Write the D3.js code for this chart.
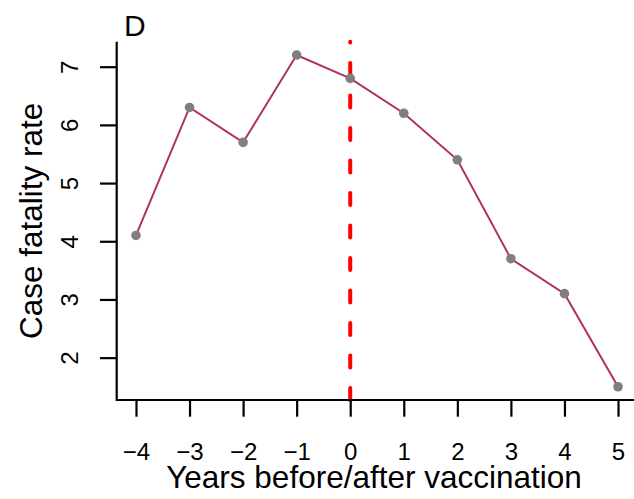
<!DOCTYPE html>
<html><head><meta charset="utf-8">
<script src="https://cdn.jsdelivr.net/npm/d3@7"></script>
<style>body{margin:0;background:#fff}svg{display:block}text{font-family:"Liberation Sans",Arial,Helvetica,sans-serif;fill:#000}</style>
</head><body><svg id="c" width="634" height="499"></svg>
<script>
const years = [-4,-3,-2,-1,0,1,2,3,4,5];
const cfr = [4.1,6.3,5.7,7.2,6.8,6.2,5.4,3.7,3.1,1.5];
const xTicks = [-4,-3,-2,-1,0,1,2,3,4,5];
const yTicks = [2,3,4,5,6,7];
const panelLabel = "D";
const xTitle = "Years before/after vaccination";
const yTitle = "Case fatality rate";
const vLineAt = 0;

const svg = d3.select("#c");
// R-style 4% extension
const xr = d3.extent(years), yr = d3.extent(cfr);
const xp = (xr[1]-xr[0])*0.04, yp = (yr[1]-yr[0])*0.04;
const L = 116.7, T = 41.8, B = 400;
const pxPerX = 53.56;
const R = L + (xr[1]-xr[0]+2*xp)*pxPerX;
const x = d3.scaleLinear().domain([xr[0]-xp, xr[1]+xp]).range([L, R]);
const y = d3.scaleLinear().domain([yr[0]-yp, yr[1]+yp]).range([B, T]);
const fmt = d => d<0 ? "\u2212"+Math.abs(d) : String(d);

// red dashed vertical line (drawn from bottom up)
svg.append("path")
  .attr("d", `M${x(vLineAt)},${B}L${x(vLineAt)},${T}`)
  .attr("stroke","#ff0000").attr("stroke-width",4)
  .attr("stroke-linecap","round")
  .attr("stroke-dasharray","12,20.5").attr("fill","none");

// line
svg.append("path").datum(years.map((d,i)=>[d,cfr[i]]))
  .attr("d", d3.line().x(d=>x(d[0])).y(d=>y(d[1])))
  .attr("fill","none").attr("stroke","#B03060").attr("stroke-width",2);

// points
svg.selectAll("circle.p").data(years.map((d,i)=>[d,cfr[i]])).enter()
  .append("circle").attr("cx",d=>x(d[0])).attr("cy",d=>y(d[1]))
  .attr("r",4.8).attr("fill","#7F7F7F");

// axes
const xAxis = d3.axisBottom(x).tickValues(xTicks).tickSize(16.7).tickFormat(fmt);
const gx = svg.append("g").attr("transform",`translate(0,${B})`).call(xAxis);
gx.select(".domain").remove();
gx.selectAll(".tick line").attr("stroke","#000").attr("stroke-width",2.2);
gx.selectAll(".tick text").attr("font-size","24px").attr("dy",null).attr("y",60)
  .attr("font-family","'Liberation Sans',Arial,sans-serif");

const yAxis = d3.axisLeft(y).tickValues(yTicks).tickSize(16.7).tickFormat(fmt);
const gy = svg.append("g").attr("transform",`translate(${L},0)`).call(yAxis);
gy.select(".domain").remove();
gy.selectAll(".tick line").attr("stroke","#000").attr("stroke-width",2.2);
gy.selectAll(".tick text").attr("font-size","24px")
  .attr("x",null).attr("dy",null).attr("text-anchor","middle")
  .attr("transform","translate(-38.3,0) rotate(-90)")
  .attr("font-family","'Liberation Sans',Arial,sans-serif");

// L box
svg.append("path").attr("d",`M${L},${T}L${L},${B}L${R},${B}`)
  .attr("fill","none").attr("stroke","#000").attr("stroke-width",2.2);

// titles
svg.append("text").attr("x",(L+R)/2 - 3).attr("y",488.3).attr("text-anchor","middle")
  .attr("font-size","31.5px").text(xTitle);
svg.append("text").attr("transform",`translate(41.7,${(T+B)/2}) rotate(-90)`)
  .attr("text-anchor","middle").attr("font-size","31.5px").text(yTitle);
svg.append("text").attr("x",124).attr("y",36).attr("font-size","30px").text(panelLabel);
</script></body></html>
